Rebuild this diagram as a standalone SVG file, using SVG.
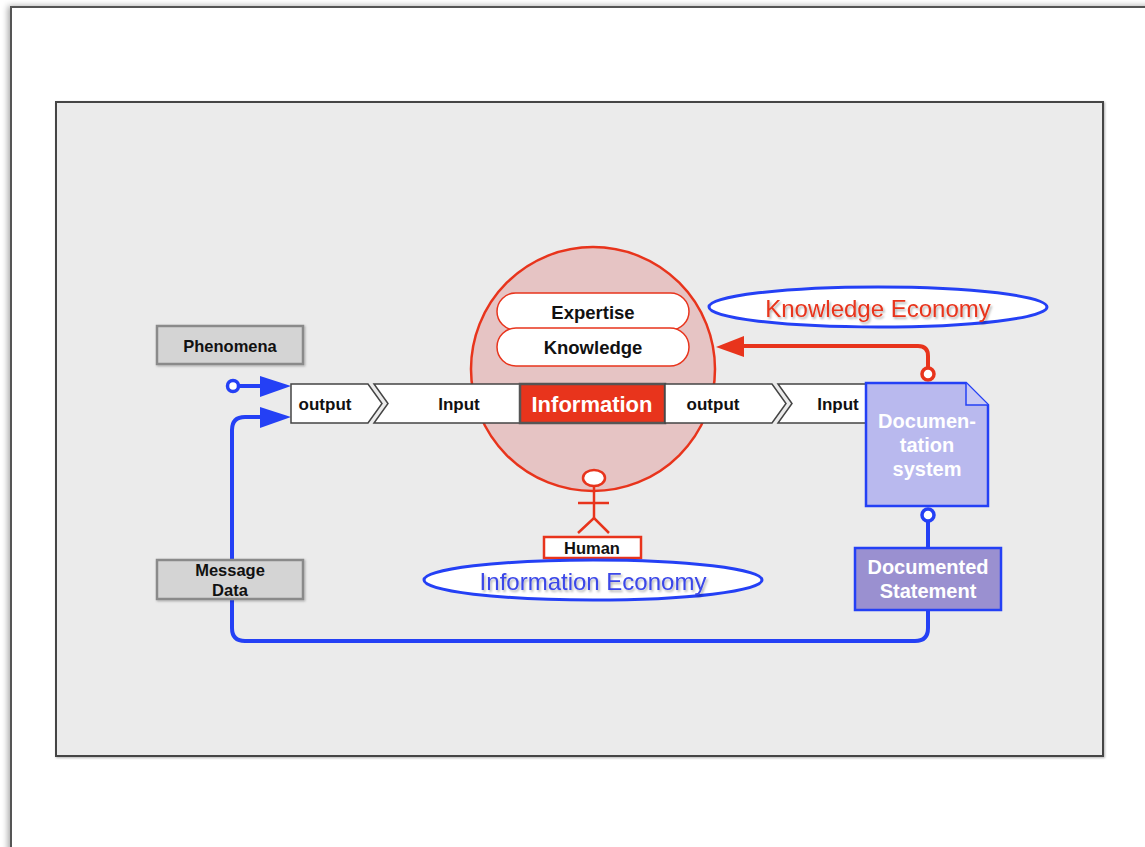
<svg xmlns="http://www.w3.org/2000/svg" width="1145" height="847" viewBox="0 0 1145 847">
<defs>
<filter id="pageShadow" x="-5%" y="-5%" width="110%" height="110%">
<feDropShadow dx="-2" dy="0" stdDeviation="3" flood-color="#000" flood-opacity="0.35"/>
</filter>
<filter id="txtShadow" x="-10%" y="-30%" width="120%" height="160%">
<feDropShadow dx="1.5" dy="2" stdDeviation="1" flood-color="#000" flood-opacity="0.3"/>
</filter>
<filter id="boxShadow" x="-10%" y="-20%" width="120%" height="140%">
<feDropShadow dx="1" dy="1" stdDeviation="1" flood-color="#000" flood-opacity="0.3"/>
</filter>
</defs>
<style>
text{font-family:"Liberation Sans",Arial,Helvetica,sans-serif;text-anchor:middle;dominant-baseline:central}
.gbox{fill:#d4d4d4;stroke:#8a8a8a;stroke-width:2.5}
.gtxt{font-size:16.5px;font-weight:bold;fill:#111}
.seg{fill:#fff;stroke:#444;stroke-width:1.5}
.segtxt{font-size:17px;font-weight:bold;fill:#111}
.pill{fill:#fff;stroke:#e8341c;stroke-width:1.5}
.pilltxt{font-size:18.5px;font-weight:bold;fill:#111}
.econ{fill:#fff;stroke:#2440f5;stroke-width:3}
.blue{fill:none;stroke:#2440f5;stroke-width:4}
.red{fill:none;stroke:#e8341c;stroke-width:4}
.wtxt{font-size:20px;font-weight:bold;fill:#fff}
</style>
<rect x="0" y="0" width="1145" height="847" fill="#fff"/>
<g id="page">
<rect x="11" y="7" width="1160" height="870" fill="#fff" stroke="#555" stroke-width="2" filter="url(#pageShadow)"/>
</g>
<g id="panel">
<rect x="56" y="102" width="1047" height="654" fill="#ebebeb" stroke="#444" stroke-width="2" filter="url(#boxShadow)"/>
</g>
<g id="connectors">
<circle cx="233" cy="386" r="5.5" fill="#fff" stroke="#2440f5" stroke-width="3.5"/>
<line x1="239" y1="386" x2="264" y2="386" class="blue"/>
<polygon points="260,376 291,386 260,397" fill="#2440f5"/>
<path d="M928,611 V628 Q928,641 915,641 H245 Q232,641 232,628 V430 Q232,417 245,417 H264" class="blue"/>
<polygon points="260,407 291,417 260,428" fill="#2440f5"/>
<path d="M928,368 V356 Q928,346 918,346 H740" class="red"/>
<polygon points="744,336 716,347 744,357" fill="#e8341c"/>
<circle cx="928" cy="374" r="6" fill="#fff" stroke="#e8341c" stroke-width="3.5"/>
<line x1="928" y1="521" x2="928" y2="548" class="blue"/>
<circle cx="928" cy="515" r="6" fill="#fff" stroke="#2440f5" stroke-width="3.5"/>
</g>
<g id="phenomena">
<rect x="157" y="326" width="146" height="38" class="gbox" filter="url(#boxShadow)"/>
<text x="230" y="346" class="gtxt">Phenomena</text>
</g>
<g id="message-data">
<rect x="157" y="560" width="146" height="39" class="gbox" filter="url(#boxShadow)"/>
<text x="230" y="570" class="gtxt">Message</text>
<text x="230" y="590" class="gtxt">Data</text>
</g>
<g id="information-circle">
<circle cx="593" cy="369" r="122" fill="#e6c4c4" stroke="#e8341c" stroke-width="2.5"/>
</g>
<g id="expertise">
<rect x="497" y="293" width="192" height="37" rx="18.5" class="pill"/>
<text x="593" y="312" class="pilltxt">Expertise</text>
</g>
<g id="knowledge">
<rect x="497" y="328" width="192" height="38" rx="19" class="pill"/>
<text x="593" y="347" class="pilltxt">Knowledge</text>
</g>
<g id="output-1">
<polygon points="291,384 368,384 382,403.5 368,423 291,423" class="seg"/>
<text x="325" y="404" class="segtxt">output</text>
</g>
<g id="input-1">
<polygon points="374,384 520,384 520,423 374,423 388,403.5" class="seg"/>
<text x="459" y="404" class="segtxt">Input</text>
</g>
<g id="information">
<rect x="520" y="384" width="145" height="39" fill="#e8341c" stroke="#555" stroke-width="2.5"/>
<text x="592" y="404" font-size="22" font-weight="bold" fill="#fff">Information</text>
</g>
<g id="output-2">
<polygon points="665,384 772,384 786,403.5 772,423 665,423" class="seg"/>
<text x="713" y="404" class="segtxt">output</text>
</g>
<g id="input-2">
<polygon points="778,384 880,384 880,423 778,423 792,403.5" class="seg"/>
<text x="838" y="404" class="segtxt">Input</text>
</g>
<g id="human">
<ellipse cx="594" cy="478" rx="11" ry="8" fill="#fff" stroke="#e8341c" stroke-width="2.5"/>
<line x1="594" y1="486" x2="594" y2="518" stroke="#e8341c" stroke-width="2.5"/>
<line x1="578" y1="503" x2="609" y2="503" stroke="#e8341c" stroke-width="2.5"/>
<polyline points="578,533 594,518 609,533" fill="none" stroke="#e8341c" stroke-width="2.5"/>
<rect x="544" y="537" width="97" height="21" fill="#fff" stroke="#e8341c" stroke-width="2.5"/>
<text x="592" y="548" font-size="16.5" font-weight="bold" fill="#111">Human</text>
</g>
<g id="information-economy">
<ellipse cx="593" cy="580" rx="169" ry="20" class="econ"/>
<text x="593" y="581" font-size="24" fill="#3a46e8" filter="url(#txtShadow)">Information Economy</text>
</g>
<g id="knowledge-economy">
<ellipse cx="878" cy="307" rx="169" ry="20" class="econ"/>
<text x="878" y="308" font-size="24" fill="#e8341c" filter="url(#txtShadow)">Knowledge Economy</text>
</g>
<g id="documentation-system">
<path d="M866,383 H966 L988,405 V506 H866 Z" fill="#b9b9ee" stroke="#2440f5" stroke-width="2.5"/>
<path d="M966,383 V405 H988" fill="#c9c9f3" stroke="#2440f5" stroke-width="1.5"/>
<text x="927" y="421" class="wtxt">Documen-</text>
<text x="927" y="445" class="wtxt">tation</text>
<text x="927" y="469" class="wtxt">system</text>
</g>
<g id="documented-statement">
<rect x="855" y="548" width="146" height="62" fill="#9a90d0" stroke="#2440f5" stroke-width="2.5"/>
<text x="928" y="567" class="wtxt">Documented</text>
<text x="928" y="591" class="wtxt">Statement</text>
</g>
</svg>
